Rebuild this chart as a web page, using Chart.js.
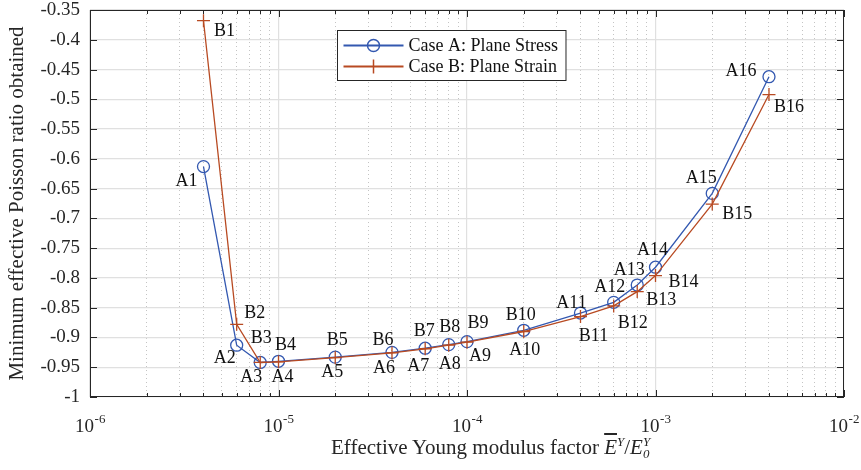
<!DOCTYPE html>
<html>
<head>
    <title>Minimum effective Poisson ratio</title>
    <script src="https://cdn.jsdelivr.net/npm/chart.js"></script>
    <style>
        body {
            margin: 0;
            background: white;
            font-family: "Liberation Serif", serif;
        }
        .wrap {
            position: relative;
            width: 861px;
            height: 470px;
        }
        #xTitle {
            position: absolute;
            left: 331px;
            top: 436px;
            font-size: 21px;
            line-height: 1;
            color: #262626;
            white-space: nowrap;
        }
        #xTitle .bar { text-decoration: overline; }
        #xTitle sup { font-size: 13px; font-style: italic; vertical-align: 8px; line-height: 0; }
        #xTitle .stack {
            display: inline-flex;
            flex-direction: column;
            font-size: 13px;
            line-height: 12px;
            font-style: italic;
            vertical-align: 8px;
        }
    </style>
</head>
<body>
    <div class="wrap">
        <canvas id="poissonChart"></canvas>
        <div id="xTitle">Effective Young modulus factor <i class="bar">E</i><sup>Y</sup>/<i>E</i><span class="stack"><span>Y</span><span>0</span></span></div>
    </div>

    <script>
        // Data
        const youngFactor = [4e-6, 6e-6, 8e-6, 1e-5, 2e-5, 4e-5, 6e-5, 8e-5, 1e-4, 2e-4, 4e-4, 6e-4, 8e-4, 1e-3, 2e-3, 4e-3];
        const poissonA = [-0.613, -0.913, -0.942, -0.940, -0.933, -0.925, -0.918, -0.912, -0.907, -0.888, -0.859, -0.841, -0.812, -0.782, -0.658, -0.462];
        const poissonB = [-0.368, -0.878, -0.942, -0.941, -0.934, -0.926, -0.919, -0.913, -0.908, -0.890, -0.865, -0.847, -0.823, -0.796, -0.676, -0.492];
        const pointNamesA = ['A1', 'A2', 'A3', 'A4', 'A5', 'A6', 'A7', 'A8', 'A9', 'A10', 'A11', 'A12', 'A13', 'A14', 'A15', 'A16'];
        const pointNamesB = ['B1', 'B2', 'B3', 'B4', 'B5', 'B6', 'B7', 'B8', 'B9', 'B10', 'B11', 'B12', 'B13', 'B14', 'B15', 'B16'];
        const seriesNames = ['Case A: Plane Stress', 'Case B: Plane Strain'];
        const xDecades = [1e-6, 1e-5, 1e-4, 1e-3, 1e-2];
        const xMinorSteps = [2, 3, 4, 5, 6, 7, 8, 9];
        const yMin = -1, yMax = -0.35, yStep = 0.05;

        // where each point name sits relative to its marker (px)
        const labelOffsetsA = [[-17, 15], [-12, 13], [-9, 15], [4, 16], [-3, 15], [-8, 16], [-7, 18], [1, 20],
                               [13, 15], [1, 20], [-9, -10], [-4, -15], [-8, -15], [-3, -17], [-11, -15], [-28, -5]];
        const labelOffsetsB = [[21, 11], [18, -11], [1, -24], [7, -17], [2, -17], [-9, -13], [-1, -18], [1, -18],
                               [11, -19], [-3, -16], [13, 20], [19, 17], [24, 9], [28, 7], [25, 10], [20, 13]];

        const FONT = '"Liberation Serif", "Times New Roman", serif';
        const BLUE = '#3358b0';
        const RED = '#b84a22';
        const AXIS = '#262626';

        const isDecade = v => Math.abs(Math.log10(v) - Math.round(Math.log10(v))) < 1e-9;

        // x ticks: every 1..9 in each decade
        const xTickValues = [];
        xDecades.forEach((d, i) => {
            xTickValues.push(d);
            if (i < xDecades.length - 1) xMinorSteps.forEach(s => xTickValues.push(s * d));
        });

        // Point names next to markers
        const pointLabels = {
            id: 'pointLabels',
            afterDatasetsDraw(chart) {
                const ctx = chart.ctx;
                ctx.save();
                ctx.font = '18px ' + FONT;
                ctx.fillStyle = '#111';
                ctx.textAlign = 'center';
                ctx.textBaseline = 'middle';
                [[pointNamesA, labelOffsetsA], [pointNamesB, labelOffsetsB]].forEach(([names, offs], di) => {
                    chart.getDatasetMeta(di).data.forEach((pt, i) => {
                        ctx.fillText(names[i], pt.x + offs[i][0], pt.y + offs[i][1]);
                    });
                });
                ctx.restore();
            }
        };

        // MATLAB style box with inward ticks, plus 10^n labels under the decades
        const axesBox = {
            id: 'axesBox',
            afterDatasetsDraw(chart) {
                const {ctx, chartArea: a, scales: {x, y}} = chart;
                ctx.save();
                ctx.strokeStyle = AXIS;
                ctx.lineWidth = 1;
                ctx.beginPath();
                x.ticks.forEach(t => {
                    const px = Math.round(x.getPixelForValue(t.value)) + 0.5;
                    const len = isDecade(t.value) ? 7 : 4;
                    ctx.moveTo(px, a.bottom); ctx.lineTo(px, a.bottom - len);
                    ctx.moveTo(px, a.top); ctx.lineTo(px, a.top + len);
                });
                y.ticks.forEach(t => {
                    const py = Math.round(y.getPixelForValue(t.value)) + 0.5;
                    ctx.moveTo(a.left, py); ctx.lineTo(a.left + 7, py);
                    ctx.moveTo(a.right, py); ctx.lineTo(a.right - 7, py);
                });
                ctx.stroke();
                ctx.strokeRect(Math.round(a.left) + 0.5, Math.round(a.top) + 0.5,
                               Math.round(a.width) - 1, Math.round(a.height) - 1);

                ctx.fillStyle = AXIS;
                ctx.textAlign = 'left';
                ctx.textBaseline = 'alphabetic';
                x.ticks.filter(t => isDecade(t.value)).forEach(t => {
                    const px = x.getPixelForValue(t.value);
                    const exp = String(Math.round(Math.log10(t.value)));
                    ctx.font = '19px ' + FONT;
                    const wBase = ctx.measureText('10').width;
                    ctx.font = '13px ' + FONT;
                    const wExp = ctx.measureText(exp).width;
                    const start = px - (wBase + wExp) / 2;
                    ctx.font = '19px ' + FONT;
                    ctx.fillText('10', start, a.bottom + 35);
                    ctx.font = '13px ' + FONT;
                    ctx.fillText(exp, start + wBase + 0.5, a.bottom + 26);
                });
                ctx.restore();
            }
        };

        // Legend box inside the plot
        const boxLegend = {
            id: 'boxLegend',
            afterDraw(chart) {
                const {ctx, chartArea: a} = chart;
                ctx.save();
                ctx.font = '18px ' + FONT;
                const textW = Math.max(...seriesNames.map(s => ctx.measureText(s).width));
                const x0 = Math.round(a.left + 247) + 0.5, y0 = Math.round(a.top + 20) + 0.5;
                const w = 71 + textW + 8, h = 50;
                ctx.fillStyle = 'white';
                ctx.fillRect(x0, y0, w, h);
                ctx.strokeStyle = AXIS;
                ctx.lineWidth = 1;
                ctx.strokeRect(x0, y0, w, h);
                chart.data.datasets.forEach((ds, i) => {
                    const ry = y0 + 15 + i * 21;
                    ctx.strokeStyle = ds.borderColor;
                    ctx.lineWidth = 1.8;
                    ctx.beginPath();
                    ctx.moveTo(x0 + 6, ry); ctx.lineTo(x0 + 66, ry);
                    ctx.stroke();
                    ctx.lineWidth = 1.5;
                    ctx.beginPath();
                    if (ds.pointStyle === 'circle') {
                        ctx.arc(x0 + 36, ry, 6, 0, Math.PI * 2);
                    } else {
                        ctx.moveTo(x0 + 36, ry - 7); ctx.lineTo(x0 + 36, ry + 7);
                    }
                    ctx.stroke();
                    ctx.fillStyle = '#111';
                    ctx.textBaseline = 'middle';
                    ctx.fillText(seriesNames[i], x0 + 71, ry + 1);
                });
                ctx.restore();
            }
        };

        const ctx = document.getElementById('poissonChart').getContext('2d');
        const chart = new Chart(ctx, {
            type: 'line',
            data: {
                datasets: [
                    {
                        label: seriesNames[0],
                        data: youngFactor.map((x, i) => ({x: x, y: poissonA[i]})),
                        borderColor: BLUE,
                        backgroundColor: 'transparent',
                        borderWidth: 1.3,
                        pointStyle: 'circle',
                        pointRadius: 6,
                        pointBorderWidth: 1.3,
                        pointBackgroundColor: 'transparent',
                        tension: 0,
                        order: 1
                    },
                    {
                        label: seriesNames[1],
                        data: youngFactor.map((x, i) => ({x: x, y: poissonB[i]})),
                        borderColor: RED,
                        backgroundColor: 'transparent',
                        borderWidth: 1.3,
                        pointStyle: 'cross',
                        pointRadius: 6.5,
                        pointBorderWidth: 1.3,
                        tension: 0,
                        order: 0
                    }
                ]
            },
            options: {
                responsive: true,
                maintainAspectRatio: false,
                animation: false,
                layout: { padding: { top: 10, right: 17, left: 0, bottom: 0 } },
                plugins: {
                    legend: { display: false },
                    tooltip: { enabled: false }
                },
                scales: {
                    x: {
                        type: 'logarithmic',
                        min: xDecades[0],
                        max: xDecades[xDecades.length - 1],
                        afterBuildTicks: scale => {
                            scale.ticks = xTickValues.map(v => ({value: v, major: isDecade(v)}));
                        },
                        afterFit: scale => {
                            scale.height = 73;
                            scale.paddingLeft = 0;
                            scale.paddingRight = 0;
                        },
                        ticks: { display: false, autoSkip: false },
                        grid: {
                            drawTicks: false,
                            color: c => (c.tick && isDecade(c.tick.value)) ? '#e0e0e0' : '#c4c4c4',
                            lineWidth: c => (c.tick && isDecade(c.tick.value)) ? 1.2 : 1
                        },
                        border: {
                            display: false,
                            dash: c => (c.tick && !isDecade(c.tick.value)) ? [1, 3] : []
                        }
                    },
                    y: {
                        type: 'linear',
                        min: yMin,
                        max: yMax,
                        afterFit: scale => {
                            scale.width = 90;
                            scale.paddingTop = 0;
                            scale.paddingBottom = 0;
                        },
                        ticks: {
                            stepSize: yStep,
                            padding: 10,
                            color: AXIS,
                            font: { family: FONT, size: 19, lineHeight: 1 },
                            callback: v => String(Number(v.toFixed(2)))
                        },
                        grid: {
                            drawTicks: false,
                            color: '#e0e0e0',
                            lineWidth: 1.2
                        },
                        border: { display: false },
                        title: {
                            display: true,
                            text: 'Minimum effective Poisson ratio obtained',
                            color: AXIS,
                            font: { family: FONT, size: 21 },
                            padding: { top: 5, bottom: 0 }
                        }
                    }
                }
            },
            plugins: [pointLabels, axesBox, boxLegend]
        });
    </script>
</body>
</html>
